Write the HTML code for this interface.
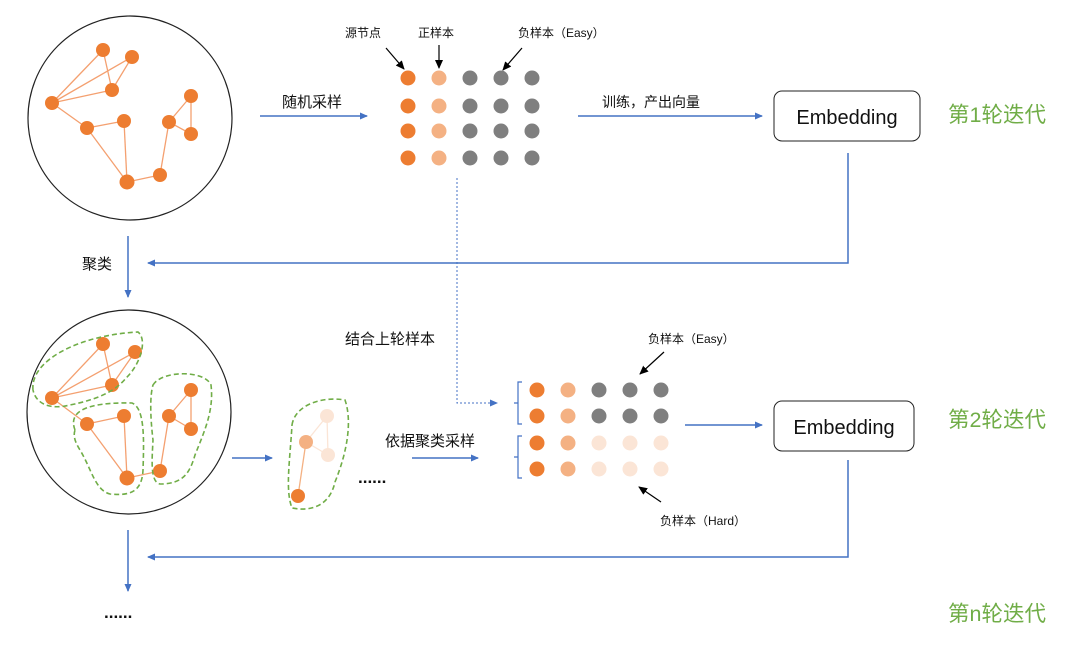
<!DOCTYPE html>
<html><head><meta charset="utf-8"><style>
html,body{margin:0;padding:0;background:#fff;}
svg{display:block;font-family:"Liberation Sans","Noto Sans CJK SC",sans-serif;}
</style></head><body>
<svg width="1080" height="647" viewBox="0 0 1080 647" xmlns="http://www.w3.org/2000/svg">
<defs>
<marker id="ab" markerWidth="8" markerHeight="8" refX="7" refY="4" orient="auto" markerUnits="userSpaceOnUse"><path d="M0,0.5 L8,4 L0,7.5Z" fill="#4472C4"/></marker>
<marker id="ak" markerWidth="9" markerHeight="9" refX="8" refY="4.5" orient="auto" markerUnits="userSpaceOnUse"><path d="M0,0.5 L9,4.5 L0,8.5Z" fill="#000"/></marker>
</defs>
<rect width="1080" height="647" fill="#fff"/>

<circle cx="130" cy="118" r="102" fill="none" stroke="#222" stroke-width="1.2"/>
<g stroke="#F4A070" stroke-width="1.3">
<line x1="103" y1="50" x2="112" y2="90"/><line x1="103" y1="50" x2="52" y2="103"/>
<line x1="132" y1="57" x2="52" y2="103"/><line x1="132" y1="57" x2="112" y2="90"/>
<line x1="52" y1="103" x2="112" y2="90"/><line x1="52" y1="103" x2="87" y2="128"/>
<line x1="87" y1="128" x2="124" y2="121"/><line x1="87" y1="128" x2="127" y2="182"/>
<line x1="124" y1="121" x2="127" y2="182"/><line x1="127" y1="182" x2="160" y2="175"/>
<line x1="160" y1="175" x2="169" y2="122"/><line x1="169" y1="122" x2="191" y2="96"/>
<line x1="191" y1="96" x2="191" y2="134"/><line x1="169" y1="122" x2="191" y2="134"/>
</g>
<g fill="#ED7D31">
<circle cx="103" cy="50" r="7"/><circle cx="132" cy="57" r="7"/><circle cx="112" cy="90" r="7"/>
<circle cx="52" cy="103" r="7"/><circle cx="87" cy="128" r="7"/><circle cx="124" cy="121" r="7"/>
<circle cx="169" cy="122" r="7"/><circle cx="191" cy="96" r="7"/><circle cx="191" cy="134" r="7"/>
<circle cx="127" cy="182" r="7.5"/><circle cx="160" cy="175" r="7"/>
</g>

<circle cx="129" cy="412" r="102" fill="none" stroke="#222" stroke-width="1.2"/>
<g stroke="#F4A070" stroke-width="1.3">
<line x1="103" y1="344" x2="112" y2="385"/><line x1="103" y1="344" x2="52" y2="398"/>
<line x1="135" y1="352" x2="52" y2="398"/><line x1="135" y1="352" x2="112" y2="385"/>
<line x1="52" y1="398" x2="112" y2="385"/><line x1="52" y1="398" x2="87" y2="424"/>
<line x1="87" y1="424" x2="124" y2="416"/><line x1="87" y1="424" x2="127" y2="478"/>
<line x1="124" y1="416" x2="127" y2="478"/><line x1="127" y1="478" x2="160" y2="471"/>
<line x1="160" y1="471" x2="169" y2="416"/><line x1="169" y1="416" x2="191" y2="390"/>
<line x1="191" y1="390" x2="191" y2="429"/><line x1="169" y1="416" x2="191" y2="429"/>
</g>
<g fill="#ED7D31">
<circle cx="103" cy="344" r="7"/><circle cx="135" cy="352" r="7"/><circle cx="112" cy="385" r="7"/>
<circle cx="52" cy="398" r="7"/><circle cx="87" cy="424" r="7"/><circle cx="124" cy="416" r="7"/>
<circle cx="169" cy="416" r="7"/><circle cx="191" cy="390" r="7"/><circle cx="191" cy="429" r="7"/>
<circle cx="127" cy="478" r="7.5"/><circle cx="160" cy="471" r="7"/>
</g>
<g fill="none" stroke="#70AD47" stroke-width="1.6" stroke-dasharray="5,3">
<path d="M33,390 C30,360 80,335 138,332 C148,340 140,365 126,378 C115,392 95,400 70,405 C50,410 36,404 33,390Z"/>
<path d="M75,430 C68,412 85,402 132,403 C145,408 144,440 143,470 C142,492 130,496 110,494 C95,490 92,470 80,450 C75,442 73,436 75,430Z"/>
<path d="M153,385 C162,370 205,370 211,385 C214,410 205,430 195,455 C190,472 184,484 160,484 C150,482 152,460 153,440 C150,415 150,395 153,385Z"/>
<path d="M292,425 C295,405 322,396 345,400 C352,420 348,450 335,482 C330,505 312,512 292,508 C285,490 290,460 292,425Z"/>
</g>
<g stroke-width="1.3">
<line x1="298" y1="496" x2="306" y2="442" stroke="#F4B183"/>
<line x1="306" y1="442" x2="327" y2="416" stroke="#FBE5D6"/>
<line x1="306" y1="442" x2="328" y2="455" stroke="#FBE5D6"/>
<line x1="327" y1="416" x2="328" y2="455" stroke="#FBE5D6"/>
</g>
<circle cx="298" cy="496" r="7" fill="#ED7D31"/><circle cx="306" cy="442" r="7" fill="#F4B183"/>
<circle cx="327" cy="416" r="7" fill="#FBE5D6"/><circle cx="328" cy="455" r="7" fill="#FBE5D6"/>

<g>
<g fill="#ED7D31"><circle cx="408" cy="78" r="7.5"/><circle cx="408" cy="106" r="7.5"/><circle cx="408" cy="131" r="7.5"/><circle cx="408" cy="158" r="7.5"/></g>
<g fill="#F4B183"><circle cx="439" cy="78" r="7.5"/><circle cx="439" cy="106" r="7.5"/><circle cx="439" cy="131" r="7.5"/><circle cx="439" cy="158" r="7.5"/></g>
<g fill="#7F7F7F">
<circle cx="470" cy="78" r="7.5"/><circle cx="470" cy="106" r="7.5"/><circle cx="470" cy="131" r="7.5"/><circle cx="470" cy="158" r="7.5"/>
<circle cx="501" cy="78" r="7.5"/><circle cx="501" cy="106" r="7.5"/><circle cx="501" cy="131" r="7.5"/><circle cx="501" cy="158" r="7.5"/>
<circle cx="532" cy="78" r="7.5"/><circle cx="532" cy="106" r="7.5"/><circle cx="532" cy="131" r="7.5"/><circle cx="532" cy="158" r="7.5"/>
</g>
</g>
<g>
<g fill="#ED7D31"><circle cx="537" cy="390" r="7.5"/><circle cx="537" cy="416" r="7.5"/><circle cx="537" cy="443" r="7.5"/><circle cx="537" cy="469" r="7.5"/></g>
<g fill="#F4B183"><circle cx="568" cy="390" r="7.5"/><circle cx="568" cy="416" r="7.5"/><circle cx="568" cy="443" r="7.5"/><circle cx="568" cy="469" r="7.5"/></g>
<g fill="#7F7F7F"><circle cx="599" cy="390" r="7.5"/><circle cx="599" cy="416" r="7.5"/><circle cx="630" cy="390" r="7.5"/><circle cx="630" cy="416" r="7.5"/><circle cx="661" cy="390" r="7.5"/><circle cx="661" cy="416" r="7.5"/></g>
<g fill="#FBE5D6"><circle cx="599" cy="443" r="7.5"/><circle cx="599" cy="469" r="7.5"/><circle cx="630" cy="443" r="7.5"/><circle cx="630" cy="469" r="7.5"/><circle cx="661" cy="443" r="7.5"/><circle cx="661" cy="469" r="7.5"/></g>
<g fill="none" stroke="#4472C4" stroke-width="1.2">
<path d="M522,382 L518,382 L518,424 L522,424 M518,403 L514,403"/>
<path d="M522,436 L518,436 L518,478 L522,478 M518,457 L514,457"/>
</g>
</g>

<g stroke="#4472C4" stroke-width="1.5" fill="none">
<line x1="260" y1="116" x2="367" y2="116" marker-end="url(#ab)"/>
<line x1="578" y1="116" x2="762" y2="116" marker-end="url(#ab)"/>
<polyline points="848,153 848,263 148,263" marker-end="url(#ab)"/>
<line x1="128" y1="236" x2="128" y2="297" marker-end="url(#ab)"/>
<line x1="232" y1="458" x2="272" y2="458" marker-end="url(#ab)"/>
<line x1="412" y1="458" x2="478" y2="458" marker-end="url(#ab)"/>
<line x1="685" y1="425" x2="762" y2="425" marker-end="url(#ab)"/>
<polyline points="848,460 848,557 148,557" marker-end="url(#ab)"/>
<line x1="128" y1="530" x2="128" y2="591" marker-end="url(#ab)"/>
<polyline points="457,178 457,403 497,403" stroke-dasharray="2,2" stroke-width="1" marker-end="url(#ab)"/>
</g>
<g stroke="#000" stroke-width="1.2">
<line x1="386" y1="48" x2="404" y2="69" marker-end="url(#ak)"/>
<line x1="439" y1="45" x2="439" y2="68" marker-end="url(#ak)"/>
<line x1="522" y1="48" x2="503" y2="70" marker-end="url(#ak)"/>
<line x1="664" y1="352" x2="640" y2="374" marker-end="url(#ak)"/>
<line x1="661" y1="502" x2="639" y2="487" marker-end="url(#ak)"/>
</g>

<rect x="774" y="91" width="146" height="50" rx="8" fill="#fff" stroke="#222" stroke-width="1"/>
<text x="847" y="124" font-size="20" text-anchor="middle" fill="#111">Embedding</text>
<rect x="774" y="401" width="140" height="50" rx="8" fill="#fff" stroke="#222" stroke-width="1"/>
<text x="844" y="434" font-size="20" text-anchor="middle" fill="#111">Embedding</text>

<g fill="#111">
<text x="345" y="37" font-size="12">源节点</text>
<text x="418" y="37" font-size="12">正样本</text>
<text x="518" y="37" font-size="12">负样本（Easy）</text>
<text x="282" y="107" font-size="15">随机采样</text>
<text x="602" y="107" font-size="14">训练，产出向量</text>
<text x="82" y="269" font-size="15">聚类</text>
<text x="345" y="344" font-size="15">结合上轮样本</text>
<text x="385" y="446" font-size="15">依据聚类采样</text>
<text x="358" y="483" font-size="17" font-weight="bold">......</text>
<text x="648" y="343" font-size="12">负样本（Easy）</text>
<text x="660" y="525" font-size="12">负样本（Hard）</text>
<text x="104" y="618" font-size="17" font-weight="bold">......</text>
</g>
<g fill="#70AD47" font-size="21.5">
<text x="948" y="122">第1轮迭代</text>
<text x="948" y="427">第2轮迭代</text>
<text x="948" y="621">第n轮迭代</text>
</g>
</svg>
</body></html>
